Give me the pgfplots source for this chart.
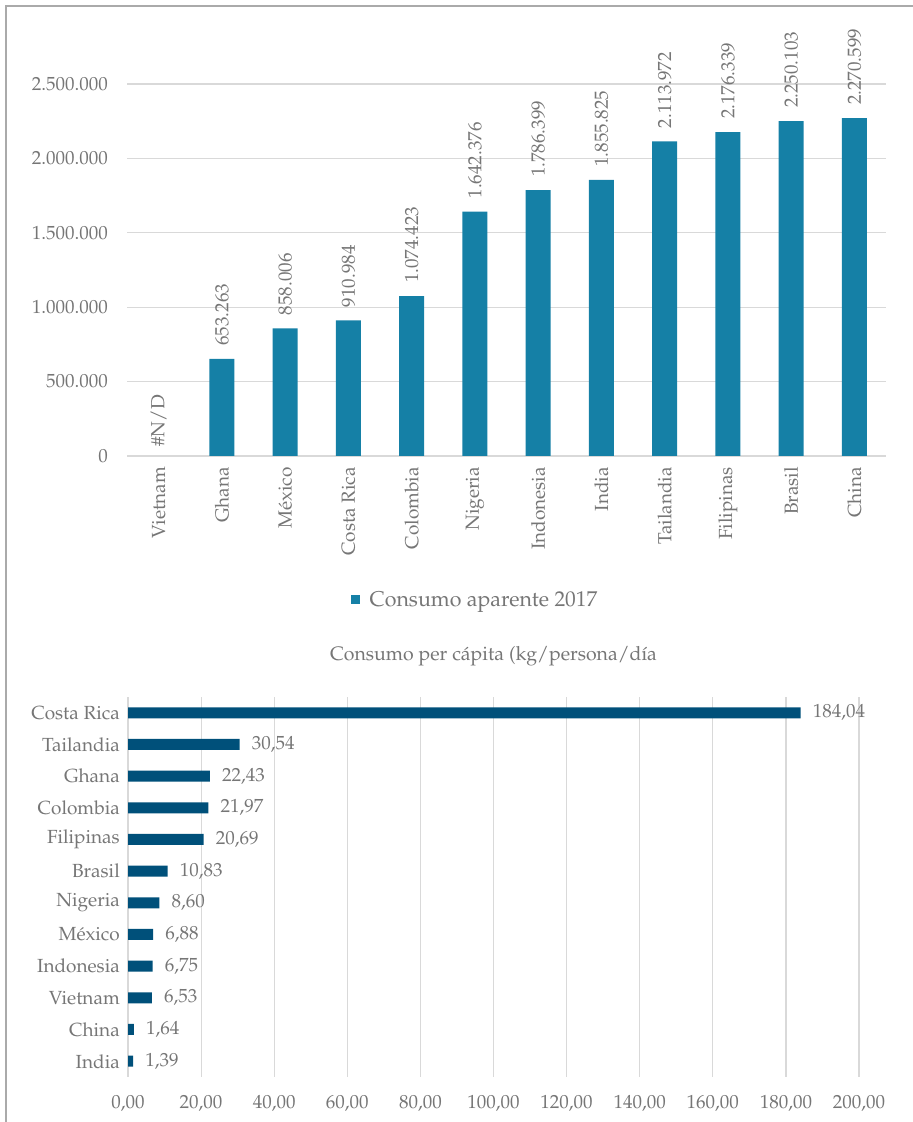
\documentclass[border=0pt]{standalone}
\usepackage[T1]{fontenc}
\usepackage{mathpazo}
\usepackage{pgfplots}
\usepackage{pgfplotstable}
\pgfplotsset{compat=1.18}

\definecolor{barA}{RGB}{21,128,166}
\definecolor{barB}{RGB}{0,80,122}
\definecolor{txt}{RGB}{118,118,118}
\definecolor{grd}{RGB}{217,217,217}
\definecolor{frm}{RGB}{170,170,170}

\newcommand{\lbl}{\fontsize{19}{22}\selectfont}

% consumo aparente 2017 (Vietnam: #N/D)
\pgfplotstableread{
x y label
1 653263 653.263
2 858006 858.006
3 910984 910.984
4 1074423 1.074.423
5 1642376 1.642.376
6 1786399 1.786.399
7 1855825 1.855.825
8 2113972 2.113.972
9 2176339 2.176.339
10 2250103 2.250.103
11 2270599 2.270.599
}\topdata

% consumo per capita
\pgfplotstableread{
y x label
0 1.39 1,39
1 1.64 1,64
2 6.53 6,53
3 6.75 6,75
4 6.88 6,88
5 8.60 8,60
6 10.83 10,83
7 20.69 20,69
8 21.97 21,97
9 22.43 22,43
10 30.54 30,54
11 184.04 184,04
}\botdata

\begin{document}
\begin{tikzpicture}
\useasboundingbox (0pt,0pt) rectangle (913pt,1122pt);
\draw[frm, line width=1.3pt] (6pt,0pt) -- (6pt,1116pt) -- (913pt,1116pt);

\begin{axis}[
    at={(127pt,666pt)}, anchor=south west,
    scale only axis,
    width=759pt, height=372pt,
    xmin=-0.5, xmax=11.5,
    ymin=0, ymax=2500000,
    scaled y ticks=false,
    axis line style={draw=none},
    major tick length=0pt,
    ymajorgrids, grid style={grd, line width=1.2pt},
    xtick={0,...,11},
    xticklabels={Vietnam,Ghana,México,Costa Rica,Colombia,Nigeria,Indonesia,India,Tailandia,Filipinas,Brasil,China},
    xticklabel style={rotate=90, anchor=east, font=\lbl, text=txt, inner sep=0pt},
    xticklabel shift=11pt,
    ytick={0,500000,1000000,1500000,2000000,2500000},
    yticklabels={0,500.000,1.000.000,1.500.000,2.000.000,2.500.000},
    yticklabel style={font=\lbl, text=txt, inner sep=0pt},
    yticklabel shift=19pt,
    clip=false,
    legend style={at={(0.4585,-0.387)}, anchor=center, draw=none, fill=none,
      font=\fontsize{21.4}{24}\selectfont, text=txt, inner sep=0pt},
    legend image code/.code={\fill[barA] (0pt,-4.5pt) rectangle (9.5pt,4.5pt); \path (17pt,0pt);},
]
\addplot[ybar, bar width=25pt, fill=barA, draw=none,
    nodes near coords, point meta=explicit symbolic,
    every node near coord/.append style={rotate=90, anchor=west, font=\lbl, text=txt, inner xsep=13pt}]
    table[x=x, y=y, meta=label]{\topdata};
\addlegendentry{Consumo aparente 2017}
\node[rotate=90, anchor=west, font=\lbl, text=txt, inner xsep=9pt] at (axis cs:0,0) {\#N/D};
\end{axis}

\begin{axis}[
    at={(128pt,45pt)}, anchor=south west,
    scale only axis,
    width=731pt, height=380pt,
    xmin=0, xmax=200,
    ymin=-0.5, ymax=11.5,
    axis line style={draw=none},
    major tick length=0pt,
    xmajorgrids, grid style={grd, line width=1.2pt},
    xtick={0,20,...,200},
    xticklabels={{0,00},{20,00},{40,00},{60,00},{80,00},{100,00},{120,00},{140,00},{160,00},{180,00},{200,00}},
    xticklabel style={font=\lbl, text=txt, inner sep=0pt},
    xticklabel shift=18pt,
    ytick={0,...,11},
    yticklabels={India,China,Vietnam,Indonesia,México,Nigeria,Brasil,Filipinas,Colombia,Ghana,Tailandia,Costa Rica},
    yticklabel style={font=\lbl, text=txt, inner sep=0pt},
    yticklabel shift=8pt,
    title={Consumo per cápita (kg/persona/día},
    title style={at={(0.5,1)}, anchor=center, yshift=35pt, font=\fontsize{19.5}{22}\selectfont, text=txt},
    clip=false,
]
\addplot[xbar, bar width=11pt, fill=barB, draw=none,
    nodes near coords, point meta=explicit symbolic,
    every node near coord/.append style={anchor=west, font=\lbl, text=txt, inner xsep=12pt}]
    table[x=x, y=y, meta=label]{\botdata};
\end{axis}
\end{tikzpicture}
\end{document}
